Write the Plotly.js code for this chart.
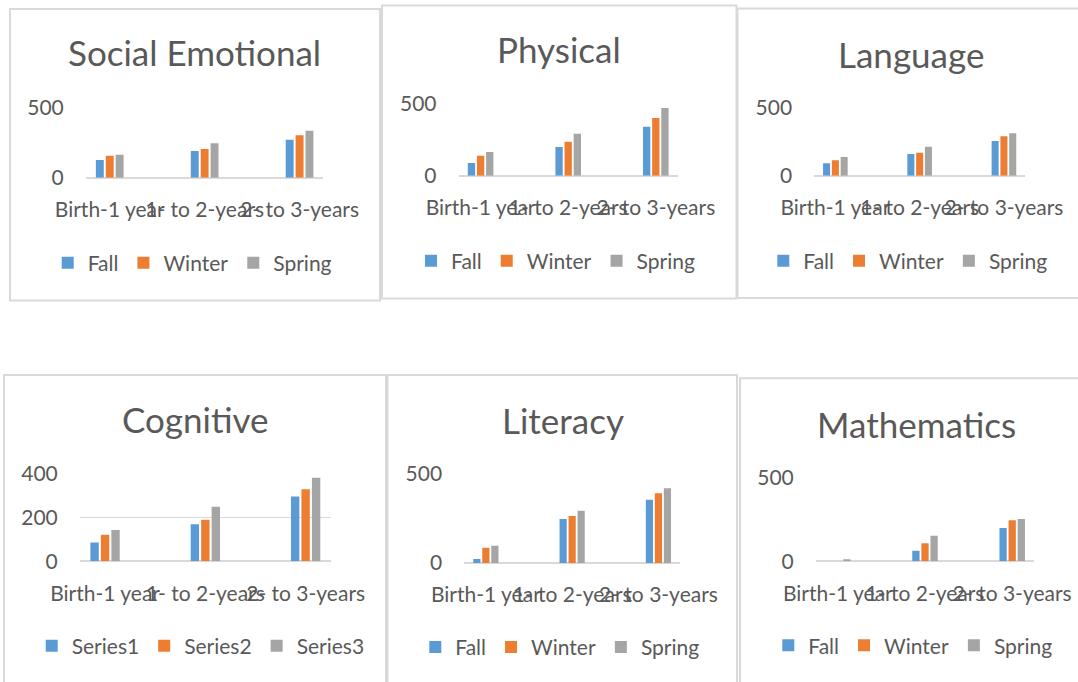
<!DOCTYPE html>
<html>
<head>
<meta charset="utf-8">
<script src="https://cdn.plot.ly/plotly-3.0.1.min.js"></script>
<style>
html,body{margin:0;padding:0;background:#fff;}
#chart{width:1078px;height:682px;}
</style>
</head>
<body>
<div id="chart"></div>
<script>
// ---------------- DATA ----------------
const categories = ["Birth-1 year", "1- to 2-years", "2- to 3-years"];
const seasonNames = ["Fall", "Winter", "Spring"];
const cognitiveNames = ["Series1", "Series2", "Series3"];
const panelTitles = ["Social Emotional", "Physical", "Language", "Cognitive", "Literacy", "Mathematics"];

const socialFall = [126, 191, 271];
const socialWinter = [157, 205, 303];
const socialSpring = [164, 246, 336];

const physicalFall = [88, 199, 340];
const physicalWinter = [139, 236, 401];
const physicalSpring = [165, 292, 470];

const languageFall = [91, 160, 255];
const languageWinter = [113, 169, 290];
const languageSpring = [137, 213, 312];

const cognitiveSeries1 = [86, 168, 294];
const cognitiveSeries2 = [121, 189, 327];
const cognitiveSeries3 = [142, 248, 380];

const literacyFall = [22, 246, 354];
const literacyWinter = [86, 263, 390];
const literacySpring = [97, 293, 418];

const mathFall = [0, 63, 198];
const mathWinter = [0, 107, 244];
const mathSpring = [12, 152, 252];

const yMax = [500, 500, 500, 400, 500, 500];
const yStep = [500, 500, 500, 200, 500, 500];

// ---------------- LAYOUT GEOMETRY (pixels) ----------------
const W = 1078, H = 682;
const colors = ["#5B9BD5", "#ED7D31", "#A5A5A5"];
const textColor = "#595959";
const gridColor = "#D9D9D9";
const FONT = "Lato, 'Open Sans', sans-serif";

// plot area: x left/right, y of top gridline / zero line
const geo = [
  {x0: 86,    x1: 323.3, yTop: 107.7, yZero: 177.7, title: [194, 52],  leg: [61.7, 263]},
  {x0: 458.7, x1: 677.7, yTop: 103.7, yZero: 175.7, title: [559, 49],  leg: [425, 261]},
  {x0: 814.3, x1: 1025,  yTop: 107.7, yZero: 175.7, title: [911, 54],  leg: [777.3, 261]},
  {x0: 80,    x1: 330.7, yTop: 473.3, yZero: 561.3, title: [195, 419], leg: [45.7, 646]},
  {x0: 464.3, x1: 680,   yTop: 473.7, yZero: 563,   title: [563, 420], leg: [429.3, 647.3]},
  {x0: 816,   x1: 1034,  yTop: 477.3, yZero: 561.3, title: [916, 424], leg: [782.3, 645.7]}
];
// panel frames
const frames = [
  [10, 9, 380, 300.5],
  [382, 5.5, 736.5, 298.5],
  [737.5, 8.5, 1090, 298],
  [4, 375, 386, 700],
  [387.5, 375, 737, 700],
  [740, 378.3, 1090, 700]
];

const px = v => v / W;
const py = v => 1 - v / H;

const panelData = [
  [socialFall, socialWinter, socialSpring],
  [physicalFall, physicalWinter, physicalSpring],
  [languageFall, languageWinter, languageSpring],
  [cognitiveSeries1, cognitiveSeries2, cognitiveSeries3],
  [literacyFall, literacyWinter, literacySpring],
  [mathFall, mathWinter, mathSpring]
];

const traces = [];
const layout = {
  width: W, height: H,
  margin: {l: 0, r: 0, t: 0, b: 0},
  paper_bgcolor: "#fff",
  plot_bgcolor: "rgba(0,0,0,0)",
  showlegend: true,
  barmode: "group",
  bargap: 0.687,
  bargroupgap: 0.2,
  font: {family: FONT, color: textColor, size: 21},
  shapes: [],
  annotations: []
};

panelData.forEach((series, i) => {
  const n = i + 1;
  const xa = n === 1 ? "x" : "x" + n;
  const ya = n === 1 ? "y" : "y" + n;
  const lg = n === 1 ? "legend" : "legend" + n;
  const names = i === 3 ? cognitiveNames : seasonNames;
  series.forEach((vals, s) => {
    traces.push({
      type: "bar",
      x: categories,
      y: vals,
      name: names[s],
      xaxis: xa, yaxis: ya,
      legend: lg,
      marker: {color: colors[s], line: {width: 0}},
      hoverinfo: "x+y+name"
    });
  });
  const g = geo[i];
  layout[n === 1 ? "xaxis" : "xaxis" + n] = {
    type: "category",
    domain: [px(g.x0), px(g.x1)],
    range: [-0.25, 2.25],
    anchor: ya,
    showgrid: false, zeroline: false, showline: false,
    ticks: "outside", ticklen: 13, tickcolor: "rgba(0,0,0,0)",
    tickangle: 0,
    tickfont: {family: FONT, size: 21, color: textColor},
    fixedrange: true
  };
  layout[n === 1 ? "yaxis" : "yaxis" + n] = {
    domain: [py(g.yZero), py(g.yTop)],
    range: [0, yMax[i]],
    dtick: yStep[i], tick0: 0,
    anchor: xa,
    showgrid: true, gridcolor: gridColor, gridwidth: 1.5,
    zeroline: true, zerolinecolor: gridColor, zerolinewidth: 2,
    showline: false,
    ticks: "outside", ticklen: 17, tickcolor: "rgba(0,0,0,0)",
    tickfont: {family: FONT, size: 21, color: textColor},
    fixedrange: true
  };
  layout[lg] = {
    orientation: "h",
    x: px(g.leg[0] - 14), xanchor: "left",
    y: py(g.leg[1]), yanchor: "middle",
    bgcolor: "rgba(0,0,0,0)", borderwidth: 0,
    font: {family: FONT, size: 21, color: textColor},
    traceorder: "normal"
  };
  layout.annotations.push({
    text: panelTitles[i],
    xref: "paper", yref: "paper",
    x: px(g.title[0]), y: py(g.title[1]),
    xanchor: "center", yanchor: "middle",
    showarrow: false,
    font: {family: FONT, size: 35, color: textColor}
  });
  const f = frames[i];
  layout.shapes.push({
    type: "rect", xref: "paper", yref: "paper",
    x0: px(f[0]), x1: px(f[2]), y0: py(f[3]), y1: py(f[1]),
    line: {color: gridColor, width: 2}, fillcolor: "rgba(0,0,0,0)",
    layer: "below"
  });
});

Plotly.newPlot("chart", traces, layout, {displayModeBar: false, staticPlot: true});
</script>
</body>
</html>
